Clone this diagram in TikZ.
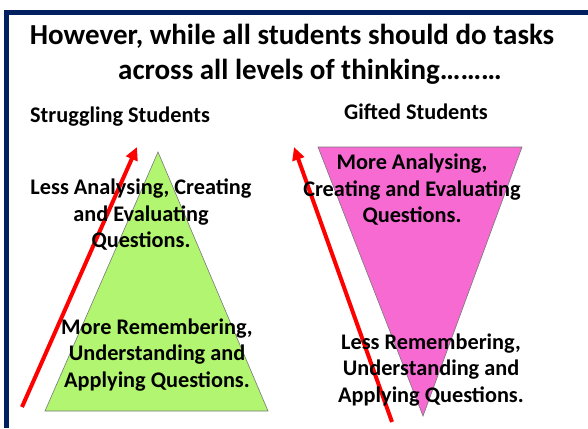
\documentclass[tikz,border=0pt]{standalone}
\usepackage{fontspec}
\setmainfont{Carlito}
\usetikzlibrary{arrows.meta}
\definecolor{navy}{RGB}{0,32,96}
\definecolor{lime}{RGB}{178,245,112}
\definecolor{orchid}{RGB}{246,106,210}
\definecolor{edgegray}{RGB}{120,120,120}
\tikzset{
  title/.style={font=\bfseries\fontsize{29}{37}\selectfont, inner sep=0pt},
  heading/.style={font=\bfseries\fontsize{22.3}{24}\selectfont, inner sep=0pt},
  body/.style={font=\bfseries\fontsize{22.3}{26.5}\selectfont, align=center, inner sep=0pt},
  level/.style={draw=edgegray, line width=0.6pt},
  trend/.style={red, line width=4pt, -{Triangle[length=13pt,width=12pt]}},
}
\begin{document}
\begin{tikzpicture}[x=1pt,y=-1pt]
\useasboundingbox (0,0) rectangle (588,428);
\fill[white] (0,0) rectangle (588,428);
% slide frame
\draw[navy, line width=5pt] (6.5,428) -- (6.5,12.5) -- (588,12.5);
% headings
\node[title] (t1) at (292,36) {However, while all students should do tasks};
\node[title] (t2) at (310,72) {across all levels of thinking………};
\node[heading] (hs) at (120,117) {Struggling Students};
\node[heading] (hg) at (416,112) {Gifted Students};
% pyramids
\fill[lime] (158,152) -- (268,411) -- (45,411) -- cycle;
\draw[level] (158,152) -- (268,411) -- (45,411) -- cycle;
\fill[orchid] (318,147) -- (522,147) -- (423,416) -- cycle;
\draw[level] (318,147) -- (522,147) -- (423,416) -- cycle;
% direction arrows
\coordinate (la) at (22,407);
\coordinate (lb) at (137,147);
\coordinate (ra) at (392,422);
\coordinate (rb) at (294,147);
\draw[trend] (la) -- (lb);
\draw[trend] (ra) -- (rb);
% labels
\node[body] (sl1) at (141,215) {Less Analysing, Creating\\and Evaluating\\Questions.};
\node[body] (sl2) at (157,355) {More Remembering,\\Understanding and\\Applying Questions.};
\node[body] (gl1) at (412,190) {More Analysing,\\Creating and Evaluating\\Questions.};
\node[body] (gl2) at (431,370) {Less Remembering,\\Understanding and\\Applying Questions.};
\end{tikzpicture}
\end{document}
